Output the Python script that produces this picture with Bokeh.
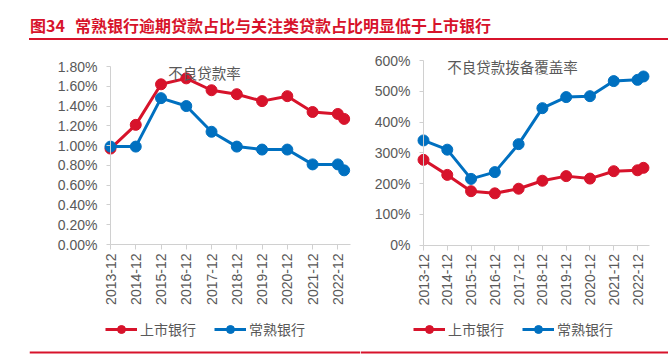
import math
from bokeh.plotting import figure
from bokeh.models import (Range1d, FixedTicker, SingleIntervalTicker, PrintfTickFormatter,
                          Span, Label, Legend, LegendItem, Div)
from bokeh.layouts import column, row
from bokeh.embed import file_html
from bokeh.resources import INLINE

# ---------------- data ----------------
dates = ["2013-12", "2014-12", "2015-12", "2016-12", "2017-12", "2018-12",
         "2019-12", "2020-12", "2021-12", "2022-12", "2023-03"]
tick_labels = ["2013-12", "2014-12", "2015-12", "2016-12", "2017-12",
               "2018-12", "2019-12", "2020-12", "2021-12", "2022-12"]

npl_listed = [0.97, 1.21, 1.62, 1.68, 1.56, 1.52, 1.45, 1.50, 1.34, 1.32, 1.27]
npl_changshu = [0.99, 0.99, 1.48, 1.40, 1.14, 0.99, 0.96, 0.96, 0.81, 0.81, 0.75]

cov_listed = [277, 228, 175, 168, 183, 209, 224, 216, 240, 243, 251]
cov_changshu = [340, 310, 215, 237, 328, 445, 481, 484, 533, 537, 548]

series_names = ["上市银行", "常熟银行"]
title_text = "常熟银行逾期贷款占比与关注类贷款占比明显低于上市银行"
chart_titles = ["不良贷款率", "不良贷款拨备覆盖率"]

RED = "#D7132B"
BLUE = "#0070C0"
GRAY_TXT = "#595959"
AXIS_GRAY = "#D0D0D0"
CJK = "Noto Sans CJK SC"
LAT = "Liberation Sans"

FIG_TOP = 45      # page y of figures' top
FIG_H = 309       # figures reach the bottom of the page


def to_x(d):
    y, m = d.split("-")
    return (int(y) - 2013) + (int(m) - 12) / 12.0


xs = [to_x(d) for d in dates]
tick_pos = [to_x(d) for d in tick_labels]


def make_chart(page_x0, page_x1, frame_x0, axis_x, pxu, y_top_px, y_zero_px, y_end,
               y_step, fmt, s_red, s_blue, ctitle, title_c, legend_x, x_bound):
    # layout geometry (page pixels) -> ranges
    fw = page_x1 - frame_x0
    x_start = -(axis_x - frame_x0) / pxu
    x_end = x_start + fw / pxu
    pyu = (y_zero_px - y_top_px) / y_end
    y_start = -(FIG_TOP + FIG_H - y_zero_px) / pyu
    y_stop = y_end + (y_top_px - FIG_TOP) / pyu

    p = figure(frame_width=fw, frame_height=FIG_H,
               min_border_left=frame_x0 - page_x0, min_border_right=0,
               min_border_top=0, min_border_bottom=0,
               x_range=Range1d(x_start, x_end), y_range=Range1d(y_start, y_stop),
               output_backend="svg", toolbar_location=None, margin=(0, 0, 0, 0))
    p.outline_line_color = None
    p.xgrid.visible = False
    p.ygrid.visible = False
    p.background_fill_color = None
    p.border_fill_color = None

    # x axis at y = 0
    xa = p.xaxis[0]
    xa.fixed_location = 0
    xa.bounds = (0, x_bound)
    xa.ticker = FixedTicker(ticks=tick_pos)
    xa.major_label_overrides = {t: l for t, l in zip(tick_pos, tick_labels)}
    xa.major_label_orientation = math.pi / 2
    xa.axis_line_color = AXIS_GRAY
    xa.major_tick_line_color = AXIS_GRAY
    xa.major_tick_in = 0
    xa.major_tick_out = 5
    xa.minor_tick_line_color = None
    xa.major_label_standoff = 4
    xa.major_label_text_font = LAT
    xa.major_label_text_font_size = "14px"
    xa.major_label_text_color = GRAY_TXT

    # y axis at x = 0
    ya = p.yaxis[0]
    ya.fixed_location = 0
    ya.bounds = (0, y_end)
    ya.ticker = SingleIntervalTicker(interval=y_step)
    ya.formatter = PrintfTickFormatter(format=fmt)
    ya.axis_line_color = AXIS_GRAY
    ya.major_tick_line_color = AXIS_GRAY
    ya.major_tick_in = 0
    ya.major_tick_out = 4
    ya.minor_tick_line_color = None
    ya.major_label_standoff = 9
    ya.major_label_text_font = LAT
    ya.major_label_text_font_size = "14px"
    ya.major_label_text_color = GRAY_TXT

    rl = p.line(xs, s_red, line_color=RED, line_width=3)
    rc = p.scatter(xs, s_red, size=11, fill_color=RED, line_color=RED)
    bl = p.line(xs, s_blue, line_color=BLUE, line_width=3)
    bc = p.scatter(xs, s_blue, size=11, fill_color=BLUE, line_color=BLUE)

    fb = FIG_TOP + FIG_H
    p.add_layout(Label(x=title_c[0] - frame_x0, y=fb - title_c[1],
                       x_units="screen", y_units="screen",
                       text=ctitle, text_font=CJK, text_font_size="14.5px",
                       text_color=GRAY_TXT, text_align="center", text_baseline="middle"))

    leg = Legend(items=[LegendItem(label=series_names[0], renderers=[rl, rc]),
                        LegendItem(label=series_names[1], renderers=[bl, bc])],
                 location=(legend_x - frame_x0, fb - 339), orientation="horizontal",
                 glyph_width=32, glyph_height=20, label_standoff=3, spacing=18,
                 padding=0, margin=0, border_line_color=None,
                 background_fill_alpha=0,
                 label_text_font=CJK, label_text_font_size="14px",
                 label_text_color=GRAY_TXT, label_height=20)
    p.add_layout(leg)

    # red rule at the bottom of the page
    p.add_layout(Span(location=fb - 352, location_units="screen", dimension="width",
                      line_color=RED, line_width=2))
    return p


p1 = make_chart(0, 360, 29, 110, 25.26, 66, 244, 1.8, 0.2, "%.2f%%",
                npl_listed, npl_changshu, chart_titles[0], (204, 72), 105, 9.5)
p2 = make_chart(360, 668, 360, 423, 23.78, 60, 244.5, 600, 100, "%d%%",
                cov_listed, cov_changshu, chart_titles[1], (512, 66), 413, 9.5)

title_html = (
    '<div style="position:relative;width:640px;height:40px;margin-left:29px;'
    'border-bottom:2px solid %s;">'
    '<span style="position:absolute;left:1px;top:14px;line-height:22px;white-space:nowrap;'
    'font-family:\'%s\';font-size:16px;font-weight:bold;color:%s;">图34'
    '<span style="margin-left:10px;">%s</span></span></div>' % (RED, CJK, RED, title_text)
)
title_div = Div(text=title_html, width=668, height=FIG_TOP, margin=(0, 0, 0, 0))

layout = column(title_div, row(p1, p2, spacing=0, margin=(0, 0, 0, 0)),
                spacing=0, margin=(0, 0, 0, 0))

open("out.html", "w").write(file_html(layout, INLINE))
